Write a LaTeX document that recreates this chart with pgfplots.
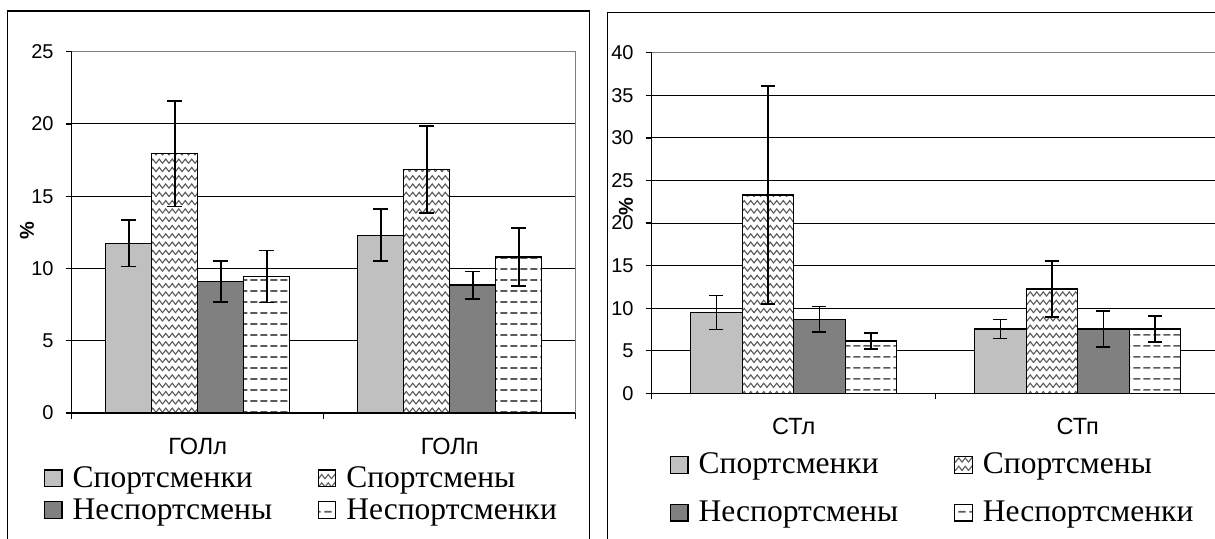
\documentclass[border=0pt]{standalone}
\usepackage{fontspec}
\setmainfont{Liberation Serif}
\newfontfamily\arial{Liberation Sans}
\usepackage{pgfplots}
\pgfplotsset{compat=1.18}
\usetikzlibrary{patterns.meta}
\definecolor{lg}{HTML}{C0C0C0}
\definecolor{dg}{HTML}{808080}
\definecolor{pc}{HTML}{5A5A5A}

\tikzdeclarepattern{
  name=zigzag, type=uncolored,
  bounding box={(-0.8pt,-0.5pt) and (7.3pt,7pt)},
  tile size={(6.5pt,8.3pt)},
  code={\draw[line width=1.1pt, line cap=round, line join=miter] (0pt,1.2pt) -- (3.25pt,5.4pt) -- (6.5pt,1.2pt);}
}
\tikzdeclarepattern{
  name=dashrows, type=uncolored,
  bounding box={(0pt,0pt) and (10.4pt,11pt)},
  tile size={(10.4pt,11pt)},
  code={\draw[line width=1.8pt] (1.4pt,5.5pt) -- (8.9pt,5.5pt);}
}

\pgfplotsset{
  barstyle/.style={draw=black, line width=1.3pt},
  s1/.style={barstyle, fill=lg},
  s2/.style={barstyle, preaction={fill=white}, pattern=zigzag, pattern color=pc},
  s3/.style={barstyle, fill=dg},
  s4/.style={barstyle, preaction={fill=white}, pattern=dashrows, pattern color=pc},
  common/.style={
    scale only axis,
    anchor=south west,
    ybar=0pt,
    xmin=-0.5, xmax=1.5, ymin=0,
    ytick distance=5,
    axis x line*=bottom, axis y line*=left,
    axis line style={black, line width=1.3pt},
    tick style={black, line width=1.3pt},
    tick align=outside,
    major tick length=6pt,
    minor tick length=6pt,
    xtick={0,1},
    major x tick style={draw=none},
    minor xtick={-0.5,0.5,1.5},
    ymajorgrids,
    grid style={black, line width=1.0pt},
    /pgf/number format/assume math mode=true,
    yticklabel style={font=\arial\fontsize{20}{20}\selectfont, inner sep=0pt, xshift=-12pt},
    xticklabel style={font=\arial\fontsize{23.5}{23.5}\selectfont, inner sep=0pt, yshift=-19pt},
    error bars/y dir=both,
    error bars/y explicit,
    error bars/error bar style={black, line width=1.6pt},
    legend columns=2,
    legend cell align=left,
    legend image code/.code={\draw[##1, line width=1.2pt] (0pt,-5.9pt) rectangle (17.5pt,10.8pt);},
    after end axis/.code={\draw[dg, line width=1.3pt] (rel axis cs:0,1) -- (rel axis cs:1,1) -- (rel axis cs:1,0);},
  },
}

\begin{document}
\begin{tikzpicture}[x=1pt,y=1pt]
\useasboundingbox (0,0) rectangle (1215,538);
\clip (0,0) rectangle (1215,538);
\fill[white] (0,0) rectangle (1215,538);
\draw[black, line width=1.4pt] (7.3,-5) -- (7.3,527) -- (589.3,527) -- (589.3,-5);
\draw[black, line width=1.4pt] (607.7,-5) -- (607.7,525.3) -- (1225,525.3);

% ---------- left chart ----------
\begin{axis}[common,
  at={(71.7pt,125pt)}, width=504pt, height=361.3pt,
  ymax=25, bar width=46pt,
  xticklabels={ГОЛл,ГОЛп},
  ylabel={\%},
  every axis y label/.style={at={(rel axis cs:-0.0887,0.5037)}, rotate=90, anchor=center, font=\arial\bfseries\fontsize{20}{20}\selectfont},
  legend style={at={(rel axis cs:-0.055,-0.1503)}, anchor=north west, draw=none, fill=none, inner sep=0pt, outer sep=0pt, column sep=10pt, row sep=4.7pt, font=\fontsize{31.5}{31.5}\selectfont, nodes={inner sep=0pt, text height=20pt, text depth=7pt}},
  error bars/error mark options={rotate=90, black, line width=1.6pt, mark size=7.5pt},
]
\addplot[s1] coordinates {(0,11.75) +- (0,1.6) (1,12.3) +- (0,1.8)};
\addplot[s2] coordinates {(0,17.95) +- (0,3.65) (1,16.85) +- (0,3.0)};
\addplot[s3] coordinates {(0,9.1) +- (0,1.4) (1,8.85) +- (0,0.95)};
\addplot[s4] coordinates {(0,9.45) +- (0,1.8) (1,10.8) +- (0,2.0)};
\legend{\makebox[235pt][l]{Спортсменки},\makebox[235pt][l]{Спортсмены},\makebox[235pt][l]{Неспортсмены},\makebox[235pt][l]{Неспортсменки}}
\end{axis}

% ---------- right chart ----------
\begin{axis}[common,
  at={(651.7pt,144.7pt)}, width=568pt, height=340.6pt,
  ymax=40, bar width=51.5pt,
  xticklabels={СТл,СТп},
  ylabel={\%},
  every axis y label/.style={at={(rel axis cs:-0.0452,0.547)}, rotate=90, anchor=center, font=\arial\bfseries\fontsize{20}{20}\selectfont},
  legend style={at={(rel axis cs:0.0322,-0.178)}, anchor=north west, draw=none, fill=none, inner sep=0pt, outer sep=0pt, column sep=10pt, row sep=20.7pt, font=\fontsize{31.5}{31.5}\selectfont, nodes={inner sep=0pt, text height=20pt, text depth=7pt}},
  error bars/error mark options={rotate=90, black, line width=1.6pt, mark size=7pt},
]
\addplot[s1] coordinates {(0,9.5) +- (0,2.0) (1,7.55) +- (0,1.1)};
\addplot[s2] coordinates {(0,23.3) +- (0,12.8) (1,12.25) +- (0,3.3)};
\addplot[s3] coordinates {(0,8.7) +- (0,1.5) (1,7.55) +- (0,2.1)};
\addplot[s4] coordinates {(0,6.15) +- (0,0.95) (1,7.55) +- (0,1.5)};
\legend{\makebox[245.5pt][l]{Спортсменки},\makebox[245.5pt][l]{Спортсмены},\makebox[245.5pt][l]{Неспортсмены},\makebox[245.5pt][l]{Неспортсменки}}
\end{axis}
\end{tikzpicture}
\end{document}
